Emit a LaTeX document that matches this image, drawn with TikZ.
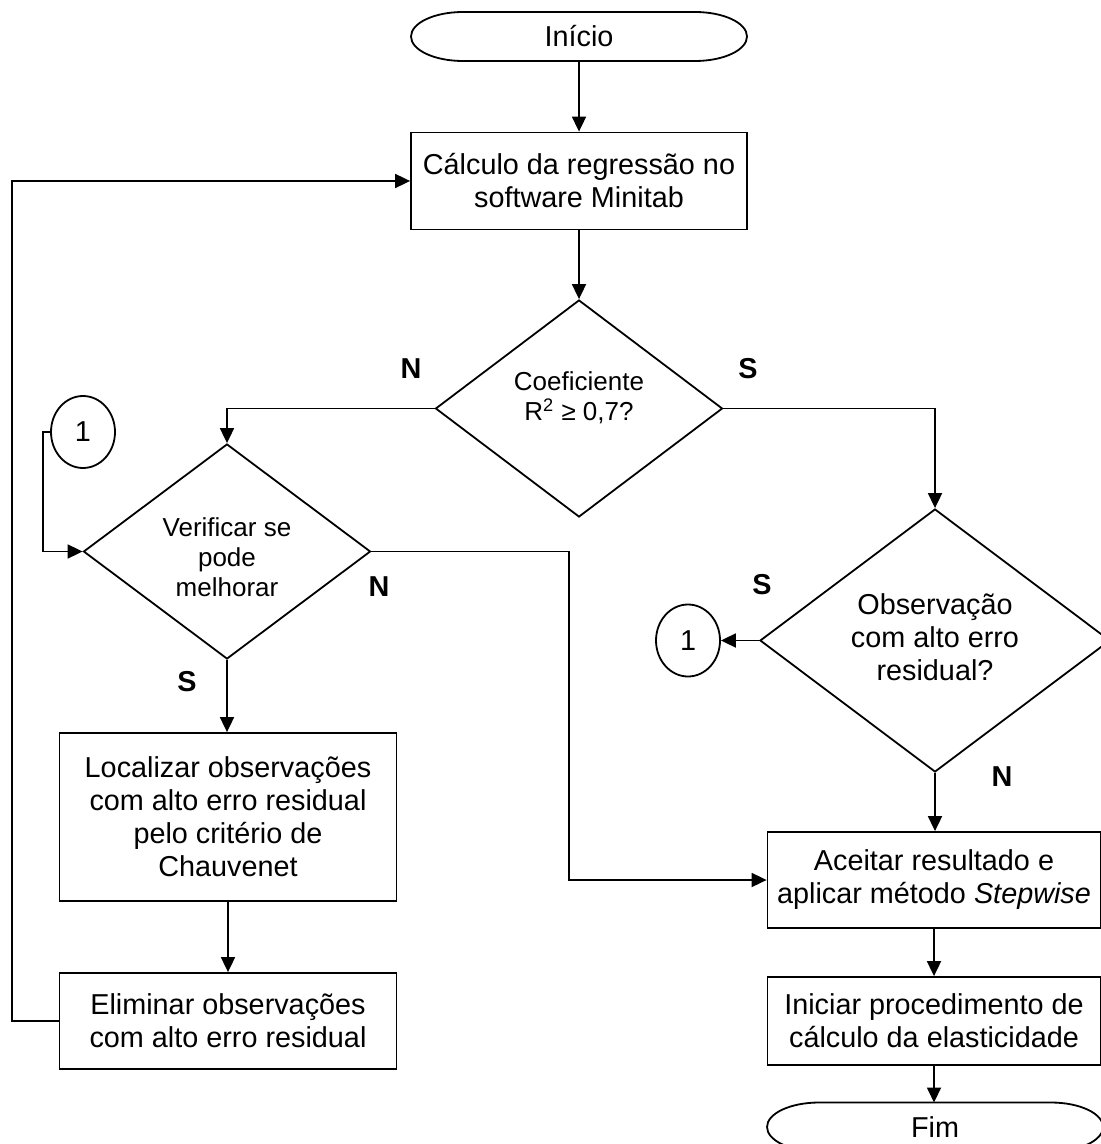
\documentclass[tikz,border=0pt]{standalone}
\usepackage{fontspec}
\setmainfont{Liberation Sans}
\usetikzlibrary{arrows.meta,shapes.geometric}
\begin{document}
\begin{tikzpicture}[x=0.5pt,y=-0.5pt,
  line width=0.9pt,
  every node/.style={inner sep=0pt},
  txt/.style={font=\fontsize{14.4}{16.5}\selectfont, align=center},
  dtxt/.style={font=\fontsize{13}{15}\selectfont, align=center},
  procbox/.style={draw, txt, rectangle},
  decision/.style={draw, diamond, aspect=1.3},
  termnode/.style={txt, outer sep=0pt, minimum width=168pt, minimum height=24.5pt},
  conn/.style={draw, ellipse, txt, minimum width=32pt, minimum height=36pt},
  lbl/.style={font=\fontsize{14.4}{16.5}\selectfont\bfseries},
  arr/.style={-{Triangle[length=7.5pt,width=7pt]}}
]
\useasboundingbox (0,0) rectangle (1101,1144);

% terminators
\node[termnode] (ini) at (579,36.5) {Início};
\draw ([xshift=26pt]ini.north west) -- ([xshift=-26pt]ini.north east)
  arc[start angle=90,end angle=-90,x radius=26pt,y radius=12.25pt]
  -- ([xshift=26pt]ini.south west)
  arc[start angle=270,end angle=90,x radius=26pt,y radius=12.25pt] -- cycle;

\node[termnode] (fim) at (935,1127) {Fim};
\draw ([xshift=26pt]fim.north west) -- ([xshift=-26pt]fim.north east)
  arc[start angle=90,end angle=-90,x radius=26pt,y radius=12.25pt]
  -- ([xshift=26pt]fim.south west)
  arc[start angle=270,end angle=90,x radius=26pt,y radius=12.25pt] -- cycle;

% process boxes
\node[procbox, minimum width=168pt, minimum height=48.5pt] (calc) at (579,181)
  {Cálculo da regressão no\\software Minitab};
\node[procbox, minimum width=168.5pt, minimum height=84pt] (loc) at (228,817)
  {Localizar observações\\com alto erro residual\\pelo critério de\\Chauvenet};
\node[procbox, minimum width=168.5pt, minimum height=48pt] (elim) at (228,1021)
  {Eliminar observações\\com alto erro residual};
\node[procbox, minimum width=166.5pt, minimum height=48pt] (acc) at (934,880)
  {Aceitar resultado e\\aplicar método \textit{Stepwise}};
\node[procbox, minimum width=166.5pt, minimum height=44pt] (inic) at (934,1021)
  {Iniciar procedimento de\\cálculo da elasticidade};

% decisions
\node[decision, minimum width=143.5pt, minimum height=108.5pt] (d1) at (579,408.5) {};
\node[dtxt] (d1t) at ([yshift=5.5pt]d1.center) {Coeficiente\\R\textsuperscript{2} ≥ 0,7?};
\node[decision, minimum width=143.5pt, minimum height=107.5pt] (d2) at (227,551.5) {};
\node[dtxt] (d2t) at ([yshift=-3pt]d2.center) {Verificar se\\pode\\melhorar};
\node[decision, minimum width=175pt, minimum height=131.5pt] (d3) at (935,640.5) {};
\node[txt] (d3t) at ([yshift=1.5pt]d3.center) {Observação\\com alto erro\\residual?};

% connectors "1"
\node[conn] (c1) at (83,432) {1};
\node[conn] (c2) at (688,640.5) {1};

% labels
\node[lbl] (n1) at (411,369) {N};
\node[lbl] (s1) at (748,369) {S};
\node[lbl] (n2) at (379,587) {N};
\node[lbl] (s2) at (187,682) {S};
\node[lbl] (s3) at (762,585) {S};
\node[lbl] (n3) at (1002,777) {N};

% helper coordinates
\coordinate (k1) at (569,551.5);
\coordinate (k2) at (12,181);
\coordinate (k3) at (43,432);

% connectors
\draw[arr] (ini.south) -- (calc.north);
\draw[arr] (calc.south) -- (d1.north);
\draw[arr] (d1.west) -| (d2.north);
\draw[arr] (d1.east) -| (d3.north);
\draw[arr] (d2.east) -- (k1) |- (acc.west);
\draw[arr] (d2.south) -- (d2.south |- loc.north);
\draw[arr] (loc.south) -- (elim.north);
\draw[arr] (elim.west) -| (k2) -- (calc.west);
\draw[arr] (c1.west) -- (k3) |- (d2.west);
\draw[arr] (d3.west) -- (c2.east);
\draw[arr] (d3.south) -- (d3.south |- acc.north);
\draw[arr] (acc.south) -- (inic.north);
\draw[arr] (inic.south) -- (inic.south |- fim.north);
\end{tikzpicture}
\end{document}
